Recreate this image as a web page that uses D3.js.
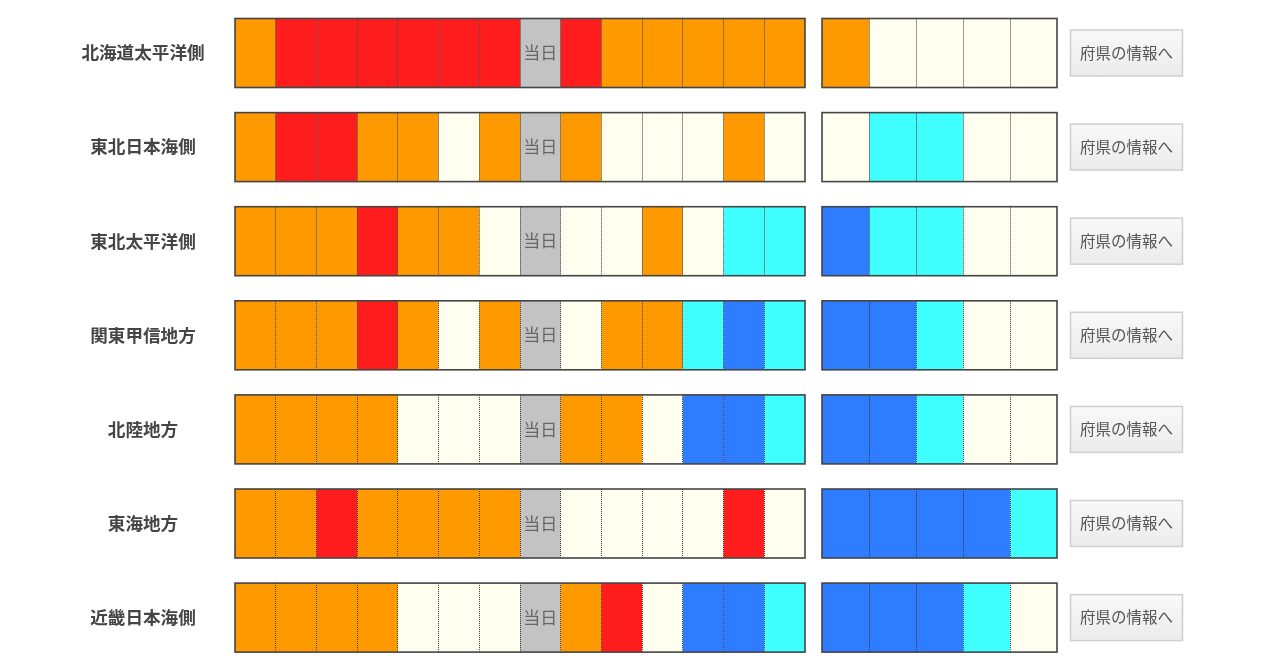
<!DOCTYPE html>
<html>
<head>
<meta charset="utf-8">
<script src="https://cdn.jsdelivr.net/npm/d3@7"></script>
<style>
  html, body { margin: 0; padding: 0; background: #fff; }
  text { font-family: "Noto Sans CJK JP", sans-serif; }
</style>
</head>
<body>
<div id="chart"></div>
<script>
var regions = ['北海道太平洋側', '東北日本海側', '東北太平洋側', '関東甲信地方', '北陸地方', '東海地方', '近畿日本海側'];

// r = red, o = orange, n = normal, c = cyan, b = blue, t = today
var pastDays = [
  'o r r r r r r t r o o o o o',
  'o r r o o n o t o n n n o n',
  'o o o r o o n t n n o n c c',
  'o o o r o n o t n o o c b c',
  'o o o o n n n t o o n b b c',
  'o o r o o o o t n n n n r n',
  'o o o o n n n t o r n b b c'
];
var nextDays = [
  'o n n n n',
  'n c c n n',
  'b c c n n',
  'b b c n n',
  'b b c n n',
  'b b b b c',
  'b b b c n'
];
var levels = ['r', 'o', 'n', 'c', 'b', 't'];
var levelColors = ['#ff1e1e', '#ff9900', '#fffff0', '#40ffff', '#2e7bff', '#c3c3c3'];
var todayLabel = '当日';
var buttonLabel = '府県の情報へ';

var width = 1280, height = 669;
var svg = d3.select('#chart').append('svg').attr('width', width).attr('height', height).style('display', 'block');

// the reference is a slightly soft screenshot
var defs = svg.append('defs');
defs.append('filter').attr('id', 'soft').append('feGaussianBlur').attr('stdDeviation', 0.45);
var grad = defs.append('linearGradient').attr('id', 'btn').attr('x1', 0).attr('x2', 0).attr('y1', 0).attr('y2', 1);
grad.append('stop').attr('offset', '0%').attr('stop-color', '#f9f9f9');
grad.append('stop').attr('offset', '100%').attr('stop-color', '#ebebeb');

var root = svg.append('g').attr('filter', 'url(#soft)');

var color = d3.scaleOrdinal().domain(levels).range(levelColors);
var y = d3.scaleBand().domain(regions).range([18.5, 652.1]).paddingInner(0.2667).paddingOuter(0);
var xPast = d3.scaleBand().domain(d3.range(14)).range([235, 805]);
var xNext = d3.scaleBand().domain(d3.range(5)).range([822, 1057]);

function drawStrip(g, days, x) {
  var cells = days.trim().split(' ');
  g.selectAll('rect.cell')
    .data(cells)
    .enter()
    .append('rect')
    .attr('class', 'cell')
    .attr('x', function (d, i) { return x(i); })
    .attr('y', 0)
    .attr('width', x.bandwidth())
    .attr('height', y.bandwidth())
    .attr('fill', function (d) { return color(d); });

  g.selectAll('line.sep')
    .data(d3.range(1, cells.length))
    .enter()
    .append('line')
    .attr('class', 'sep')
    .attr('x1', function (i) { return Math.floor(x(i)) + 0.5; })
    .attr('x2', function (i) { return Math.floor(x(i)) + 0.5; })
    .attr('y1', 0)
    .attr('y2', y.bandwidth())
    .attr('stroke', '#333')
    .attr('stroke-width', 1)
    .attr('stroke-dasharray', '1,1');

  g.append('rect')
    .attr('x', x.range()[0])
    .attr('y', 0)
    .attr('width', x.range()[1] - x.range()[0])
    .attr('height', y.bandwidth())
    .attr('fill', 'none')
    .attr('stroke', '#444')
    .attr('stroke-width', 1.6);

  g.selectAll('text.today')
    .data(cells.filter(function (d) { return d === 't'; }))
    .enter()
    .append('text')
    .attr('class', 'today')
    .attr('x', x(cells.indexOf('t')) + x.bandwidth() / 2)
    .attr('y', y.bandwidth() / 2)
    .attr('dy', '0.36em')
    .attr('text-anchor', 'middle')
    .attr('font-size', 17)
    .attr('fill', '#666')
    .text(todayLabel);
}

var rows = root.selectAll('g.row')
  .data(regions)
  .enter()
  .append('g')
  .attr('class', 'row')
  .attr('transform', function (d) { return 'translate(0,' + y(d) + ')'; });

rows.append('text')
  .attr('x', 143)
  .attr('y', y.bandwidth() / 2)
  .attr('dy', '0.36em')
  .attr('text-anchor', 'middle')
  .attr('font-size', 17.6)
  .attr('font-weight', 700)
  .attr('fill', '#444')
  .text(function (d) { return d; });

rows.each(function (d, i) {
  var row = d3.select(this);
  drawStrip(row.append('g'), pastDays[i], xPast);
  drawStrip(row.append('g'), nextDays[i], xNext);
});

rows.append('rect')
  .attr('x', 1070.5)
  .attr('y', y.bandwidth() / 2 - 23)
  .attr('width', 112)
  .attr('height', 46)
  .attr('fill', 'url(#btn)')
  .attr('stroke', '#cfcfcf')
  .attr('stroke-width', 1.5);

rows.append('text')
  .attr('x', 1126.5)
  .attr('y', y.bandwidth() / 2)
  .attr('dy', '0.36em')
  .attr('text-anchor', 'middle')
  .attr('font-size', 15.5)
  .attr('fill', '#555')
  .text(buttonLabel);
</script>
</body>
</html>
